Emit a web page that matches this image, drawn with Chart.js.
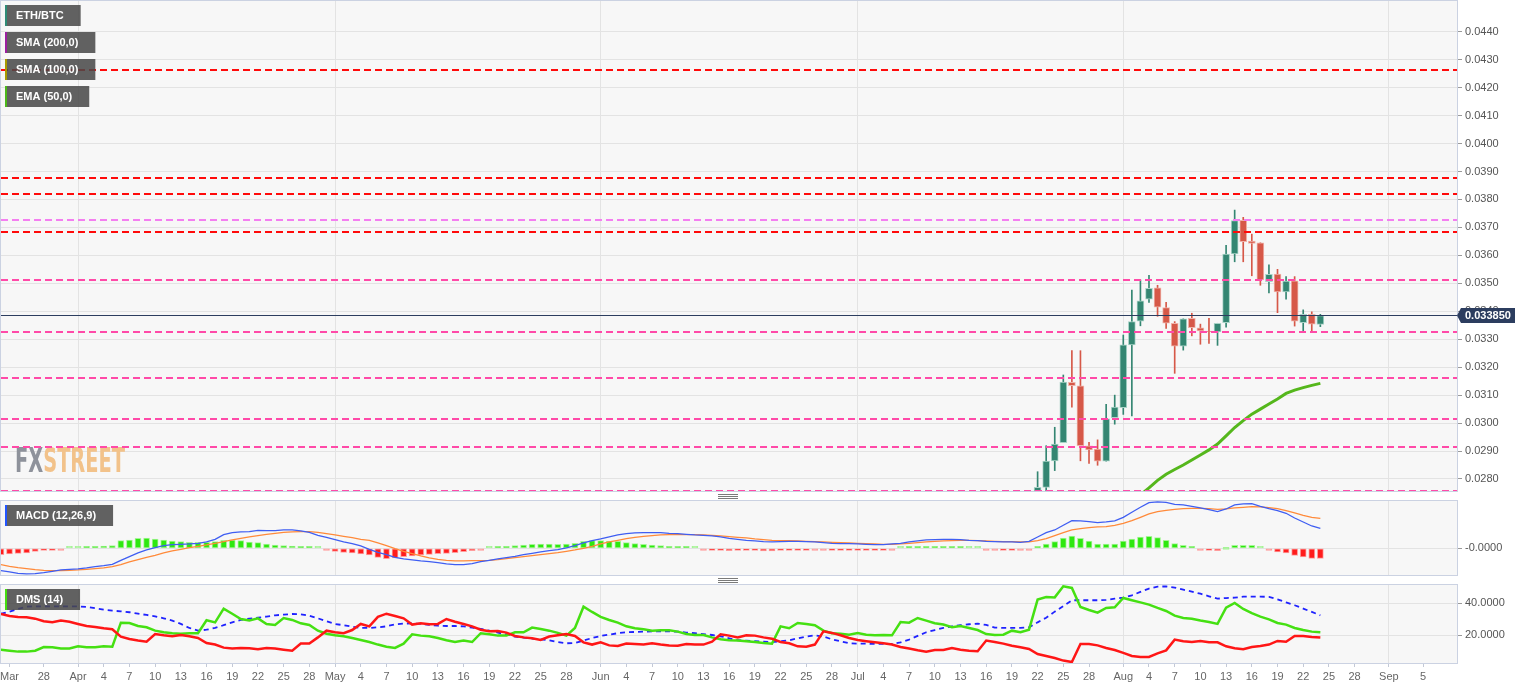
<!DOCTYPE html>
<html>
<head>
<meta charset="utf-8">
<title>ETH/BTC</title>
<script src="https://cdn.jsdelivr.net/npm/chart.js@4.4.1/dist/chart.umd.min.js"></script>
<style>
  html, body { margin:0; padding:0; background:#ffffff; }
  #wrap { position:relative; width:1534px; height:689px; overflow:hidden; background:#ffffff; }
  #wrap canvas { position:absolute; left:0; }
</style>
</head>
<body>
<div id="wrap">
  <canvas id="cMain" width="1534" height="500" style="top:0;width:1534px;height:500px"></canvas>
  <canvas id="cMacd" width="1534" height="84" style="top:500px;width:1534px;height:84px"></canvas>
  <canvas id="cDms" width="1534" height="105" style="top:584px;width:1534px;height:105px"></canvas>
</div>
<script>
const FONT = "'Liberation Sans', Arial, sans-serif";

// ---- x axis: days counted from 1 Mar 2020 ----
const X_MIN = 22.01, X_MAX = 191.95;
const tickDays = [23,27,31,34,37,40,43,46,49,52,55,58,61,64,67,70,73,76,79,82,85,88,92,95,98,101,104,107,110,113,116,119,122,125,128,131,134,137,140,143,146,149,153,156,159,162,165,168,171,174,177,180,184,188];
const tickLabels = ['Mar','28','Apr','4','7','10','13','16','19','22','25','28','May','4','7','10','13','16','19','22','25','28','Jun','4','7','10','13','16','19','22','25','28','Jul','4','7','10','13','16','19','22','25','28','Aug','4','7','10','13','16','19','22','25','28','Sep','5'];
const monthDays = [31,61,92,122,153,184];

// ---- ETH/BTC daily candles (22 Jul - 24 Aug 2020) ----
const candleDays  = [143,144,145,146,147,148,149,150,151,152,153,154,155,156,157,158,159,160,161,162,163,164,165,166,167,168,169,170,171,172,173,174,175,176];
const candleOpen  = [0.02730,0.02770,0.02865,0.02930,0.03146,0.03133,0.02919,0.02907,0.02864,0.03019,0.03055,0.03280,0.03365,0.03443,0.03484,0.03413,0.03357,0.03275,0.03375,0.03341,0.03329,0.03326,0.03359,0.03605,0.03725,0.03651,0.03645,0.03506,0.03533,0.03469,0.03509,0.03359,0.03389,0.03353];
const candleHigh  = [0.02826,0.02919,0.02985,0.03172,0.03259,0.03259,0.02931,0.02940,0.03067,0.03100,0.03315,0.03476,0.03512,0.03529,0.03493,0.03432,0.03363,0.03373,0.03393,0.03354,0.03375,0.03357,0.03636,0.03762,0.03736,0.03676,0.03645,0.03566,0.03550,0.03524,0.03524,0.03405,0.03398,0.03389];
const candleLow   = [0.02710,0.02755,0.02830,0.02930,0.03057,0.02865,0.02856,0.02849,0.02864,0.02996,0.03031,0.03026,0.03348,0.03432,0.03382,0.03339,0.03178,0.03261,0.03312,0.03282,0.03285,0.03278,0.03343,0.03577,0.03577,0.03527,0.03493,0.03466,0.03395,0.03443,0.03347,0.03330,0.03329,0.03345];
const candleClose = [0.02770,0.02864,0.02925,0.03147,0.03134,0.02919,0.02904,0.02864,0.03015,0.03057,0.03280,0.03363,0.03437,0.03482,0.03415,0.03357,0.03275,0.03373,0.03341,0.03330,0.03326,0.03357,0.03605,0.03724,0.03649,0.03643,0.03512,0.03532,0.03469,0.03508,0.03365,0.03389,0.03354,0.03385];

// ---- EMA (50) ----
const emaDays = [155,156,157,158,159,160,161,162,163,164,165,166,167,168,169,170,171,172,173,174,175,176];
const ema50   = [0.02743,0.02768,0.02795,0.02817,0.02834,0.02850,0.02868,0.02886,0.02904,0.02925,0.02954,0.02984,0.03009,0.03032,0.03050,0.03068,0.03086,0.03106,0.03118,0.03127,0.03135,0.03142];

const lastPrice = 0.03385;
const lastPriceLabel = '0.033850';
const priceTicks = [0.028,0.029,0.030,0.031,0.032,0.033,0.034,0.035,0.036,0.037,0.038,0.039,0.040,0.041,0.042,0.043,0.044];

// ---- horizontal support / resistance levels ----
const levelValues = [0.04263,0.03878,0.03818,0.03728,0.03682,0.03512,0.03327,0.03162,0.03016,0.02916,0.02758];
const levelColors = ['#ff0a0a','#ff0a0a','#ff0a0a','#f47ff0','#ff0a0a','#ff4aa8','#ff4aa8','#ff4aa8','#ff4aa8','#ff4aa8','#ff4aa8'];

// ---- indicators, one value per day starting 23 Mar 2020 ----
const indStartDay = 22;
const macdLine = [
 -0.00067,-0.00071,-0.00075,-0.00077,-0.00076,-0.00073,-0.00069,-0.00065,-0.00063,-0.00062,
 -0.00059,-0.00055,-0.00052,-0.00048,-0.00036,-0.00025,-0.00014,-0.00005,0.00002,0.00008,
 0.00011,0.00012,0.00013,0.00015,0.00019,0.00027,0.00041,0.00047,0.00049,0.00050,
 0.00054,0.00053,0.00053,0.00055,0.00055,0.00052,0.00048,0.00039,0.00033,0.00026,
 0.00019,0.00014,0.00007,-0.00003,-0.00012,-0.00019,-0.00027,-0.00032,-0.00035,-0.00038,
 -0.00040,-0.00043,-0.00047,-0.00049,-0.00049,-0.00046,-0.00040,-0.00036,-0.00032,-0.00028,
 -0.00024,-0.00019,-0.00015,-0.00011,-0.00007,-0.00004,0.00001,0.00008,0.00016,0.00023,
 0.00028,0.00034,0.00040,0.00044,0.00046,0.00047,0.00047,0.00047,0.00045,0.00044,
 0.00042,0.00040,0.00039,0.00037,0.00034,0.00030,0.00027,0.00024,0.00022,0.00020,
 0.00019,0.00020,0.00021,0.00021,0.00020,0.00019,0.00017,0.00015,0.00014,0.00014,
 0.00013,0.00012,0.00011,0.00011,0.00013,0.00015,0.00019,0.00022,0.00025,0.00026,
 0.00027,0.00027,0.00026,0.00024,0.00023,0.00021,0.00020,0.00019,0.00019,0.00018,
 0.00021,0.00034,0.00047,0.00055,0.00069,0.00083,0.00082,0.00080,0.00077,0.00079,
 0.00082,0.00093,0.00108,0.00123,0.00137,0.00139,0.00138,0.00132,0.00130,0.00126,
 0.00121,0.00116,0.00110,0.00118,0.00130,0.00133,0.00134,0.00126,0.00119,0.00113,
 0.00105,0.00091,0.00079,0.00067,0.00060];
const macdSignal = [
 -0.00049,-0.00054,-0.00058,-0.00061,-0.00064,-0.00066,-0.00067,-0.00067,-0.00066,-0.00065,
 -0.00063,-0.00061,-0.00059,-0.00055,-0.00049,-0.00041,-0.00034,-0.00027,-0.00021,-0.00014,
 -0.00008,-0.00003,0.00002,0.00006,0.00010,0.00015,0.00020,0.00025,0.00030,0.00034,
 0.00038,0.00042,0.00045,0.00048,0.00049,0.00050,0.00050,0.00048,0.00044,0.00040,
 0.00036,0.00032,0.00027,0.00024,0.00016,0.00008,-0.00001,-0.00009,-0.00016,-0.00023,
 -0.00029,-0.00033,-0.00036,-0.00038,-0.00038,-0.00037,-0.00037,-0.00036,-0.00034,-0.00031,
 -0.00028,-0.00025,-0.00022,-0.00019,-0.00016,-0.00013,-0.00009,-0.00005,0.00000,0.00006,
 0.00013,0.00019,0.00024,0.00029,0.00033,0.00036,0.00038,0.00040,0.00041,0.00041,
 0.00041,0.00041,0.00040,0.00039,0.00037,0.00035,0.00033,0.00031,0.00028,0.00026,
 0.00024,0.00023,0.00023,0.00022,0.00021,0.00020,0.00019,0.00018,0.00017,0.00016,
 0.00015,0.00014,0.00013,0.00012,0.00012,0.00013,0.00015,0.00017,0.00019,0.00021,
 0.00022,0.00023,0.00024,0.00024,0.00023,0.00022,0.00021,0.00020,0.00020,0.00019,
 0.00019,0.00023,0.00029,0.00038,0.00047,0.00055,0.00059,0.00062,0.00064,0.00065,
 0.00069,0.00075,0.00083,0.00093,0.00103,0.00110,0.00114,0.00117,0.00119,0.00120,
 0.00120,0.00119,0.00117,0.00118,0.00121,0.00123,0.00125,0.00124,0.00122,0.00119,
 0.00113,0.00106,0.00099,0.00093,0.00090];
const macdHist = [
 -0.00019,-0.00017,-0.00015,-0.00014,-0.00009,-0.00006,-0.00003,-0.00002,0.00001,0.00002,
 0.00003,0.00005,0.00007,0.00008,0.00023,0.00025,0.00030,0.00031,0.00028,0.00025,
 0.00022,0.00020,0.00018,0.00018,0.00018,0.00020,0.00024,0.00025,0.00023,0.00019,
 0.00017,0.00013,0.00010,0.00008,0.00007,0.00005,0.00003,0.00001,-0.00001,-0.00009,
 -0.00012,-0.00014,-0.00017,-0.00020,-0.00027,-0.00031,-0.00029,-0.00025,-0.00023,-0.00020,
 -0.00018,-0.00016,-0.00015,-0.00013,-0.00010,-0.00007,-0.00002,0.00001,0.00003,0.00006,
 0.00008,0.00010,0.00012,0.00013,0.00013,0.00012,0.00013,0.00015,0.00021,0.00023,
 0.00023,0.00022,0.00021,0.00017,0.00014,0.00012,0.00010,0.00008,0.00006,0.00004,
 0.00003,0.00001,-0.00001,-0.00004,-0.00006,-0.00007,-0.00006,-0.00006,-0.00006,-0.00008,
 -0.00008,-0.00005,-0.00004,-0.00003,-0.00003,-0.00002,-0.00002,-0.00004,-0.00004,-0.00004,
 -0.00004,-0.00003,-0.00003,-0.00003,-0.00002,0.00001,0.00003,0.00005,0.00006,0.00005,
 0.00004,0.00003,0.00003,0.00002,0.00001,-0.00001,-0.00002,-0.00003,-0.00003,-0.00002,
 -0.00001,0.00004,0.00013,0.00020,0.00031,0.00037,0.00030,0.00022,0.00013,0.00013,
 0.00013,0.00022,0.00028,0.00034,0.00036,0.00032,0.00024,0.00014,0.00009,0.00003,
 -0.00001,-0.00006,-0.00007,0.00000,0.00009,0.00009,0.00009,0.00001,-0.00002,-0.00011,
 -0.00014,-0.00021,-0.00026,-0.00030,-0.00030];
const adx = [
 33.5,34.8,36.5,37.9,38.1,38.1,38.1,38.1,38.1,38.1,
 37.7,36.9,36.0,35.4,35.0,34.4,33.5,32.7,31.9,30.6,
 29.2,27.1,24.6,22.9,23.5,24.6,26.3,28.1,29.6,30.4,
 31.0,31.7,32.5,32.9,33.3,33.1,32.3,30.6,28.8,27.1,
 26.3,25.4,24.6,24.6,25.0,25.6,26.9,27.3,27.5,27.1,
 26.5,26.0,25.8,25.8,25.6,24.8,24.0,22.9,21.7,20.6,
 19.2,18.5,17.9,17.5,16.9,15.8,15.0,15.2,16.7,18.3,
 19.6,20.4,21.3,21.9,22.1,22.3,22.5,22.5,22.5,22.3,
 21.7,21.3,20.8,20.2,19.4,18.1,16.9,16.7,16.3,16.0,
 15.8,16.3,16.9,18.1,19.2,20.0,19.2,17.5,16.3,15.0,
 14.8,14.8,14.6,14.6,14.6,15.6,17.3,19.6,21.9,23.3,
 24.6,25.6,26.3,26.9,27.3,26.5,24.8,24.6,24.6,24.6,
 25.0,28.1,31.0,34.8,38.3,41.9,41.9,41.9,41.9,42.1,
 42.9,43.5,45.0,47.1,49.2,50.4,50.6,49.8,48.5,47.3,
 46.0,44.4,42.9,43.3,43.5,44.2,44.2,44.2,44.0,42.5,
 40.6,38.8,36.7,34.6,32.5];
const plusDI = [
 11.0,10.4,9.8,9.8,10.4,12.7,12.5,11.7,11.7,13.1,
 12.5,12.5,13.1,12.9,27.9,27.7,25.8,25.0,22.9,21.9,
 21.3,21.0,21.3,21.3,29.4,28.1,36.7,33.5,30.2,29.2,
 30.6,27.1,26.5,30.8,29.6,27.5,26.5,22.9,21.0,20.0,
 19.4,18.3,17.1,15.8,14.2,12.9,12.1,14.8,20.6,19.8,
 19.4,18.3,16.9,15.8,16.7,15.8,21.3,20.6,19.8,19.8,
 21.9,21.9,24.8,24.0,22.9,21.5,19.8,24.6,37.9,34.6,
 31.5,29.6,27.9,25.6,24.4,23.8,22.9,23.1,23.1,22.3,
 20.8,20.2,20.2,18.7,17.5,16.9,16.7,16.3,15.8,15.2,
 14.8,25.6,24.4,27.7,27.1,26.3,22.9,21.3,21.0,20.4,
 21.5,20.4,20.0,20.2,20.0,28.3,27.9,30.8,29.2,27.5,
 26.7,25.0,25.8,24.6,23.3,20.8,20.2,20.4,22.9,21.9,
 23.5,42.3,43.9,43.7,50.6,49.6,37.7,35.8,34.2,37.1,
 37.5,43.3,41.9,40.6,39.2,37.1,35.2,32.3,30.8,30.4,
 29.2,28.3,27.1,37.3,40.2,36.5,33.8,31.7,30.0,27.7,
 26.7,24.6,23.3,22.3,21.9];
const minusDI = [
 33.3,32.1,31.5,31.3,30.4,28.8,28.1,29.2,28.5,27.1,
 25.8,25.2,24.4,23.8,19.2,17.7,16.7,16.0,20.8,20.0,
 19.4,20.2,19.4,18.3,15.2,14.2,12.3,11.7,12.1,11.9,
 11.3,12.1,11.7,11.0,10.4,14.8,14.8,18.7,22.9,21.9,
 21.3,23.3,27.1,25.6,31.5,33.5,32.1,30.6,26.7,27.5,
 26.9,27.1,30.2,28.5,27.1,25.6,23.5,22.5,22.7,21.7,
 19.6,18.7,18.1,17.1,19.2,20.0,20.8,19.6,15.6,14.2,
 15.6,13.7,13.3,14.8,14.6,14.2,15.0,14.2,13.7,13.5,
 14.6,14.2,14.2,16.0,20.6,19.8,18.7,20.0,19.8,18.7,
 17.9,15.8,15.0,13.1,12.9,14.2,22.5,21.5,20.0,18.3,
 17.1,16.3,15.6,15.0,14.2,12.7,11.7,10.6,9.8,10.8,
 10.8,12.1,11.0,10.4,10.0,16.7,15.8,14.8,13.5,12.5,
 11.5,8.3,7.1,5.8,4.2,3.3,14.6,14.6,13.7,12.1,
 10.8,9.0,7.1,6.5,6.5,8.7,10.6,17.3,16.3,15.8,
 16.5,15.6,15.6,13.1,11.9,11.3,12.7,13.3,14.2,16.5,
 16.0,19.6,19.6,19.0,18.6];
const macdTicks = [0];
const dmsTicks = [20, 40];

const indDays = macdLine.map((_, i) => indStartDay + i);
const pts = (xs, ys) => xs.map((x, i) => ({ x: x, y: ys[i] }));

// ---- colours ----
const UP = '#348672', DN = '#d65848';
const UP_EDGE = '#a9d3c7', DN_EDGE = '#efb2a9';
const isUp = i => candleClose[i] >= candleOpen[i];

// ---- shared helpers ----
function xScale(showLabels) {
  return {
    type: 'linear', min: X_MIN, max: X_MAX, offset: false,
    afterBuildTicks: s => { s.ticks = tickDays.map(v => ({ value: v })); },
    afterFit: s => { s.height = showLabels ? 26 : 0; s.paddingLeft = 0; s.paddingRight = 0; },
    grid: {
      offset: false, drawTicks: showLabels, tickLength: 4, tickColor: '#c3c9d6', lineWidth: 1,
      color: c => (c.tick && monthDays.indexOf(c.tick.value) >= 0) ? '#e3e3e3' : 'rgba(0,0,0,0)'
    },
    border: { display: false },
    ticks: {
      display: showLabels, autoSkip: false, maxRotation: 0, minRotation: 0, padding: 3,
      color: '#666', font: { size: 11, family: FONT },
      callback: v => { const i = tickDays.indexOf(v); return i >= 0 ? tickLabels[i] : ''; }
    }
  };
}
function yScale(min, max, ticks, fmt) {
  return {
    type: 'linear', position: 'right', min: min, max: max,
    afterBuildTicks: s => { s.ticks = ticks.map(v => ({ value: v })); },
    afterFit: s => { s.width = 77; s.paddingTop = 0; s.paddingBottom = 0; },
    grid: { color: '#e3e3e3', drawTicks: true, tickLength: 5, tickColor: '#9a9a9a', lineWidth: 1 },
    border: { display: false },
    ticks: { padding: 3, color: '#555', font: { size: 11, family: FONT }, callback: fmt }
  };
}
const panelPlugin = {
  id: 'panel',
  beforeDraw(chart) {
    const { ctx, chartArea: a } = chart;
    ctx.save();
    ctx.fillStyle = '#f7f7f7';
    ctx.fillRect(a.left, a.top, a.right - a.left, a.bottom - a.top);
    ctx.restore();
  },
  afterDraw(chart) {
    const { ctx, chartArea: a } = chart;
    ctx.save();
    ctx.strokeStyle = '#cbd2e2';
    ctx.lineWidth = 1;
    ctx.strokeRect(a.left - 0.5, a.top - 0.5, a.right - a.left + 1, a.bottom - a.top + 1);
    ctx.restore();
  }
};
function drawTag(ctx, x, y, text, strip) {
  ctx.save();
  ctx.font = 'bold 11px ' + FONT;
  const w = ctx.measureText(text).width + 28, h = 21;
  ctx.fillStyle = 'rgba(72,72,72,0.86)';
  ctx.fillRect(x, y, w, h);
  ctx.fillStyle = strip;
  ctx.fillRect(x, y, 2, h);
  ctx.fillStyle = '#ffffff';
  ctx.textAlign = 'left';
  ctx.textBaseline = 'middle';
  ctx.fillText(text, x + 11, y + h / 2 + 0.5);
  ctx.restore();
}
function drawHandle(ctx, cx, ys) {
  ctx.save();
  ctx.strokeStyle = '#7a7a7a';
  ctx.lineWidth = 1;
  ys.forEach(y => { ctx.beginPath(); ctx.moveTo(cx - 10, y); ctx.lineTo(cx + 10, y); ctx.stroke(); });
  ctx.restore();
}
const common = {
  responsive: false, animation: false, events: [],
  plugins: { legend: { display: false }, tooltip: { enabled: false } }
};

// ---- main price chart ----
const mainPlugins = [panelPlugin, {
  id: 'watermark',
  beforeDatasetsDraw(chart) {
    const ctx = chart.ctx;
    ctx.save();
    ctx.font = "bold 34px 'DejaVu Sans Condensed', 'DejaVu Sans', sans-serif";
    const w1 = ctx.measureText('FX').width, w2 = ctx.measureText('STREET').width;
    ctx.translate(15, 471.5);
    ctx.scale(110 / (w1 + w2), 1);
    ctx.textBaseline = 'alphabetic';
    ctx.fillStyle = '#8e929b';
    ctx.fillText('FX', 0, 0);
    ctx.fillStyle = '#f2c28a';
    ctx.fillText('STREET', w1, 0);
    ctx.restore();
  }
}, {
  id: 'levels',
  afterDatasetsDraw(chart) {
    const { ctx, chartArea: a, scales } = chart;
    ctx.save();
    ctx.beginPath();
    ctx.rect(a.left, a.top, a.right - a.left, a.bottom - a.top);
    ctx.clip();
    ctx.lineWidth = 2;
    ctx.setLineDash([7, 4]);
    levelValues.forEach((v, i) => {
      const y = Math.round(scales.y.getPixelForValue(v));
      ctx.strokeStyle = levelColors[i];
      ctx.beginPath(); ctx.moveTo(a.left, y); ctx.lineTo(a.right, y); ctx.stroke();
    });
    ctx.setLineDash([]);
    ctx.lineWidth = 1;
    ctx.strokeStyle = '#2c3d5f';
    const yp = Math.round(scales.y.getPixelForValue(lastPrice)) + 0.5;
    ctx.beginPath(); ctx.moveTo(a.left, yp); ctx.lineTo(a.right, yp); ctx.stroke();
    ctx.restore();
  }
}, {
  id: 'overlay',
  afterDraw(chart) {
    const { ctx, chartArea: a, scales } = chart;
    drawTag(ctx, 5, 5, 'ETH/BTC', '#2e8b76');
    drawTag(ctx, 5, 32, 'SMA (200,0)', '#9b1fa0');
    drawTag(ctx, 5, 59, 'SMA (100,0)', '#a89a00');
    drawTag(ctx, 5, 86, 'EMA (50,0)', '#4cb81a');
    // last price tag
    const yp = scales.y.getPixelForValue(lastPrice);
    ctx.save();
    ctx.fillStyle = '#2c3d5f';
    ctx.beginPath();
    ctx.moveTo(a.right, yp);
    ctx.lineTo(a.right + 4, yp - 7.5);
    ctx.lineTo(a.right + 58, yp - 7.5);
    ctx.lineTo(a.right + 58, yp + 7.5);
    ctx.lineTo(a.right + 4, yp + 7.5);
    ctx.closePath();
    ctx.fill();
    ctx.fillStyle = '#ffffff';
    ctx.font = 'bold 11px ' + FONT;
    ctx.textAlign = 'left';
    ctx.textBaseline = 'middle';
    ctx.fillText(lastPriceLabel, a.right + 8, yp + 0.5);
    ctx.restore();
    drawHandle(ctx, 728, [494.5, 496.5, 498.5]);
  }
}];

new Chart(document.getElementById('cMain'), {
  type: 'bar',
  data: {
    datasets: [
      { type: 'line', label: 'EMA (50,0)', data: pts(emaDays, ema50), borderColor: '#55b71c', borderWidth: 3,
        pointRadius: 0, tension: 0, clip: 0, order: 3 },
      { label: 'wick', data: candleDays.map((d, i) => ({ x: d, y: [candleLow[i], candleHigh[i]] })),
        backgroundColor: c => isUp(c.dataIndex) ? UP : DN, barThickness: 1, grouped: false, clip: 0, order: 2 },
      { label: 'ETH/BTC', data: candleDays.map((d, i) => ({ x: d, y: [candleOpen[i], candleClose[i]] })),
        backgroundColor: c => isUp(c.dataIndex) ? UP : DN, borderColor: c => isUp(c.dataIndex) ? UP_EDGE : DN_EDGE,
        borderWidth: 1, borderSkipped: false, barThickness: 7, grouped: false, clip: 0, order: 1 }
    ]
  },
  options: Object.assign({}, common, {
    layout: { padding: { top: 1, left: 1, right: 0, bottom: 9 } },
    scales: {
      x: xScale(false),
      y: yScale(0.02757, 0.04510, priceTicks, v => v.toFixed(4))
    }
  }),
  plugins: mainPlugins
});

// ---- MACD ----
new Chart(document.getElementById('cMacd'), {
  type: 'bar',
  data: {
    datasets: [
      { type: 'line', label: 'MACD', data: pts(indDays, macdLine), borderColor: '#3f5ef2', borderWidth: 1.3,
        pointRadius: 0, tension: 0, clip: 0, order: 1 },
      { type: 'line', label: 'Signal', data: pts(indDays, macdSignal), borderColor: '#ff8a3a', borderWidth: 1.3,
        pointRadius: 0, tension: 0, clip: 0, order: 2 },
      { label: 'Histogram', data: pts(indDays, macdHist),
        backgroundColor: c => { const v = macdHist[c.dataIndex]; const small = Math.abs(v) <= 0.00002;
          return v >= 0 ? (small ? '#a6f497' : '#2ee80f') : (small ? '#ff9c9c' : '#ff1c1c'); },
        borderColor: c => macdHist[c.dataIndex] >= 0 ? '#a6f497' : '#ff9c9c',
        borderWidth: 1, borderSkipped: false, barThickness: 6, minBarLength: 2, grouped: false, clip: 0, order: 3 }
    ]
  },
  options: Object.assign({}, common, {
    layout: { padding: { top: 1, left: 1, right: 0, bottom: 9 } },
    scales: {
      x: xScale(false),
      y: yScale(-0.000801, 0.001419, macdTicks, v => (v === 0 ? '-0.0000' : v.toFixed(4)))
    }
  }),
  plugins: [panelPlugin, {
    id: 'macdOverlay',
    afterDraw(chart) {
      drawTag(chart.ctx, 5, 5, 'MACD (12,26,9)', '#2255ff');
      drawHandle(chart.ctx, 728, [78.5, 80.5, 82.5]);
    }
  }]
});

// ---- DMS ----
new Chart(document.getElementById('cDms'), {
  type: 'line',
  data: {
    datasets: [
      { label: 'ADX', data: pts(indDays, adx), borderColor: '#1f22ff', borderWidth: 1.8, borderDash: [5, 4],
        pointRadius: 0, tension: 0, clip: 0, order: 3 },
      { label: '+DI', data: pts(indDays, plusDI), borderColor: '#45e012', borderWidth: 2.5,
        pointRadius: 0, tension: 0, clip: 0, order: 2 },
      { label: '-DI', data: pts(indDays, minusDI), borderColor: '#ff1616', borderWidth: 2.5,
        pointRadius: 0, tension: 0, clip: 0, order: 1 }
    ]
  },
  options: Object.assign({}, common, {
    layout: { padding: { top: 1, left: 1, right: 0, bottom: 0 } },
    scales: {
      x: xScale(true),
      y: yScale(2.69, 51.44, dmsTicks, v => v.toFixed(4))
    }
  }),
  plugins: [panelPlugin, {
    id: 'dmsOverlay',
    afterDraw(chart) { drawTag(chart.ctx, 5, 5, 'DMS (14)', '#44dd11'); }
  }]
});
</script>
</body>
</html>
